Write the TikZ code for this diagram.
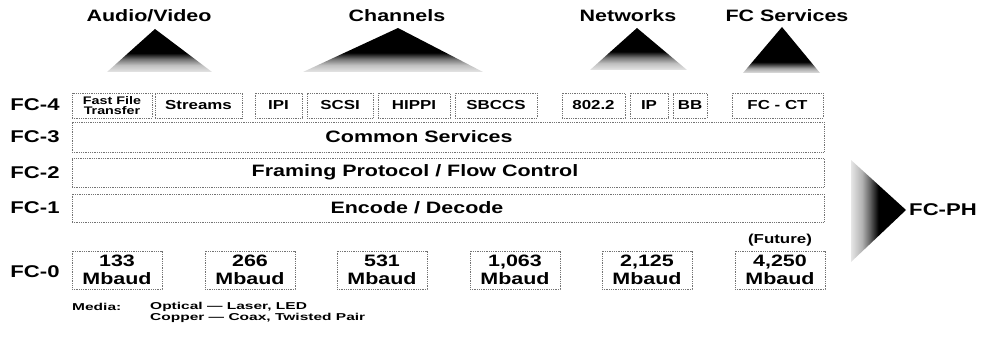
\documentclass[tikz,border=0pt]{standalone}
\usepackage{fontspec}
\setmainfont{Liberation Sans}[FakeStretch=1.3]
\newfontfamily\widefont{Liberation Sans}[FakeStretch=1.55]
\pgfdeclareverticalshading{trishade}{100bp}{color(0bp)=(black!10); color(25bp)=(black!10); color(33bp)=(black!25); color(40bp)=(black!55); color(47bp)=(black); color(100bp)=(black)}
\pgfdeclareverticalshading{trishadeb}{100bp}{color(0bp)=(black!12); color(25bp)=(black!12); color(30bp)=(black!35); color(37bp)=(black); color(100bp)=(black)}
\pgfdeclarehorizontalshading{phshade}{100bp}{color(0bp)=(black!10); color(25bp)=(black!10); color(35bp)=(black!30); color(42bp)=(black!60); color(50bp)=(black); color(100bp)=(black)}
\begin{document}
\begin{tikzpicture}[x=1pt,y=-1pt,
  every node/.style={inner sep=0pt, font=\bfseries},
  ttl/.style={font=\fontsize{16.5}{17}\selectfont\bfseries},
  lbl/.style={font=\fontsize{17}{17}\selectfont\bfseries},
  boxline/.style={draw=black!55, densely dotted, line width=0.8pt},
  cell/.style={boxline, minimum height=25pt, font=\fontsize{13}{13}\selectfont\bfseries},
  band/.style={boxline, minimum width=752pt},
  bandtext/.style={font=\fontsize{16.5}{16.5}\selectfont\bfseries},
  rate/.style={boxline, minimum width=90pt, minimum height=38pt,
    align=center, font=\fontsize{16.5}{18}\selectfont\bfseries},
  media/.style={anchor=west, font=\widefont\fontsize{10}{10}\selectfont\bfseries}
]
\useasboundingbox (0,0) rectangle (989,337);
% titles
\node[ttl] (tav) at (149,16) {Audio/Video};
\node[ttl] (tch) at (397,16) {Channels};
\node[ttl] (tnw) at (628,16) {Networks};
\node[ttl] (tfs) at (787,16) {FC Services};
% triangles
\shade[shading=trishade] (107,72) -- (155,29) -- (212,72) -- cycle;
\shade[shading=trishade] (303,72) -- (398,28) -- (483,72) -- cycle;
\shade[shading=trishade] (590,70) -- (637,28) -- (687,70) -- cycle;
\shade[shading=trishadeb] (743,73) -- (782,27) -- (820,73) -- cycle;
\shade[shading=phshade] (851,160) -- (906,210) -- (851,262) -- cycle;
\node[lbl] (ph) at (943,210) {FC-PH};
% layer labels
\node[lbl] (l4) at (35,105) {FC-4};
\node[lbl] (l3) at (35,137) {FC-3};
\node[lbl] (l2) at (35,173) {FC-2};
\node[lbl] (l1) at (35,208) {FC-1};
\node[lbl] (l0) at (35,272) {FC-0};
% FC-4 cells
\node[cell, minimum width=80pt, align=center, font=\fontsize{11}{10}\selectfont\bfseries] (fft) at (112,105.5) {Fast File\\Transfer};
\node[cell, minimum width=87pt] (str) at (198.5,105.5) {Streams};
\node[cell, minimum width=47pt] (ipi) at (278.5,105.5) {IPI};
\node[cell, minimum width=66pt] (scsi) at (340,105.5) {SCSI};
\node[cell, minimum width=72pt] (hippi) at (414,105.5) {HIPPI};
\node[cell, minimum width=82pt] (sbccs) at (496,105.5) {SBCCS};
\node[cell, minimum width=63pt] (n802) at (593.5,105.5) {802.2};
\node[cell, minimum width=38pt] (ip) at (649,105.5) {IP};
\node[cell, minimum width=34pt] (bb) at (690,105.5) {BB};
\node[cell, minimum width=91pt] (fcct) at (777.5,105.5) {FC - CT};
% bands
\node[band, minimum height=30pt] (cs) at (448,137) {};
\node[band, minimum height=29pt] (fp) at (448,172.5) {};
\node[band, minimum height=28pt] (ed) at (448,208) {};
\node[bandtext] (cst) at (419,137) {Common Services};
\node[bandtext] (fpt) at (415,172.5) {Framing Protocol / Flow Control};
\node[bandtext] (edt) at (417,208) {Encode / Decode};
% FC-0 rates
\node[rate] (r1) at (117,270) {133\\Mbaud};
\node[rate] (r2) at (250,270) {266\\Mbaud};
\node[rate] (r3) at (382,270) {531\\Mbaud};
\node[rate] (r4) at (515,270) {1,063\\Mbaud};
\node[rate] (r5) at (647,270) {2,125\\Mbaud};
\node[rate] (r6) at (780,270) {4,250\\Mbaud};
\node[font=\fontsize{13}{13}\selectfont\bfseries] (fut) at (780,240) {(Future)};
% media
\node[media] (md) at (72,307) {Media:};
\node[media] (opt) at (150,307) {Optical — Laser, LED};
\node[media] (cop) at (150,318) {Copper — Coax, Twisted Pair};
\end{tikzpicture}
\end{document}
